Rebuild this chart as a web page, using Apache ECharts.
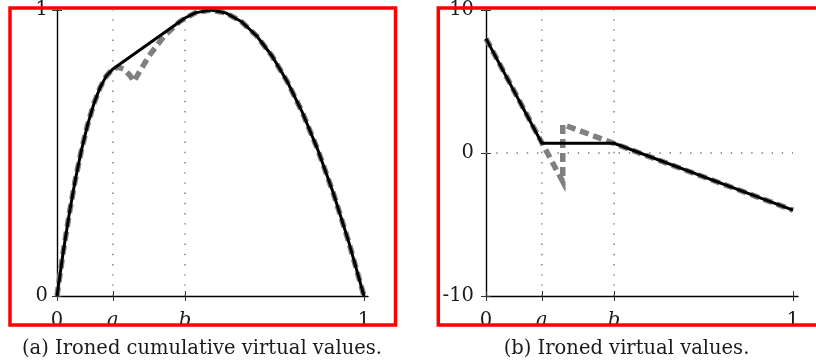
<!DOCTYPE html>
<html>
<head>
<meta charset="utf-8">
<script src="https://cdn.jsdelivr.net/npm/echarts@6/dist/echarts.min.js"></script>
<style>
  html, body { margin: 0; padding: 0; background: #ffffff; }
  #chart { width: 816px; height: 363px; }
</style>
</head>
<body>
<div id="chart"></div>
<script>
// ---------- data ----------
// shared x ticks (quantile axis)
const xTickValues = [0, 0.182, 0.417, 1];
const xTickLabels = ['0', 'a', 'b', '1'];

// panel (a): cumulative virtual values
const cumYTickValues = [0, 1];
const cumYTickLabels = ['0', '1'];
const cumOrigQ = [0, 0.02, 0.04, 0.06, 0.08, 0.10, 0.12, 0.14, 0.16, 0.18, 0.20, 0.22, 0.24, 0.25,
                  0.30, 0.35, 0.40, 0.45, 0.50, 0.55, 0.60, 0.65, 0.70, 0.75, 0.80, 0.85, 0.90, 0.95, 1.00];
const cumOrigR = [0, 0.152, 0.288, 0.408, 0.512, 0.600, 0.672, 0.728, 0.768, 0.792, 0.800, 0.792, 0.768, 0.750,
                  0.840, 0.910, 0.960, 0.990, 1.000, 0.990, 0.960, 0.910, 0.840, 0.750, 0.640, 0.510, 0.360, 0.190, 0];
const cumIronQ = [0, 0.02, 0.04, 0.06, 0.08, 0.10, 0.12, 0.14, 0.16, 0.18, 0.182, 0.417,
                  0.45, 0.50, 0.55, 0.60, 0.65, 0.70, 0.75, 0.80, 0.85, 0.90, 0.95, 1.00];
const cumIronR = [0, 0.152, 0.288, 0.408, 0.512, 0.600, 0.672, 0.728, 0.768, 0.792, 0.793, 0.972,
                  0.990, 1.000, 0.990, 0.960, 0.910, 0.840, 0.750, 0.640, 0.510, 0.360, 0.190, 0];

// panel (b): virtual values
const virtYTickValues = [-10, 0, 10];
const virtYTickLabels = ['-10', '0', '10'];
const virtOrigQ = [0, 0.25, 0.25, 1];
const virtOrigV = [8, -2, 2, -4];
const virtIronQ = [0, 0.182, 0.417, 1];
const virtIronV = [8, 0.68, 0.68, -4];

const captionA = '(a) Ironed cumulative virtual values.';
const captionB = '(b) Ironed virtual values.';

// ---------- styling ----------
const FONT = 'DejaVu Serif';
const FS = 19.5;
const TXT = '#1a1a1a';

function zip(xs, ys) { return xs.map((x, i) => [x, ys[i]]); }
function labelFmt(values, labels) {
  return function (v) {
    let i = values.findIndex(t => Math.abs(t - v) < 1e-6);
    if (i < 0) return '';
    const s = labels[i];
    return /^[a-z]$/.test(s) ? '{it|' + s + '}' : s;
  };
}
const rich = { it: { fontFamily: FONT, fontSize: FS, fontStyle: 'italic', color: TXT } };

function xAxes(grid, max) {
  return [
    {
      gridIndex: grid, type: 'value', min: 0, max: max, position: 'bottom',
      axisLine: { show: true, onZero: false, lineStyle: { color: '#000', width: 1.4 } },
      axisTick: { show: true, inside: false, length: 5, customValues: xTickValues, lineStyle: { color: '#333', width: 1 } },
      axisLabel: { show: true, customValues: xTickValues, formatter: labelFmt(xTickValues, xTickLabels),
                   margin: 15, fontFamily: FONT, fontSize: FS, color: TXT, rich: rich },
      splitLine: { show: false }
    },
    {
      gridIndex: grid, type: 'value', min: 0, max: max, position: 'bottom',
      axisLine: { show: false, onZero: false },
      axisTick: { show: true, inside: true, length: 5, customValues: xTickValues, lineStyle: { color: '#333', width: 1 } },
      axisLabel: { show: false },
      splitLine: { show: false }
    }
  ];
}
function yAxes(grid, min, max, vals, labs, margin) {
  return [
    {
      gridIndex: grid, type: 'value', min: min, max: max, position: 'left',
      axisLine: { show: true, onZero: false, lineStyle: { color: '#000', width: 1.4 } },
      axisTick: { show: true, inside: false, length: 5, customValues: vals, lineStyle: { color: '#333', width: 1 } },
      axisLabel: { show: true, customValues: vals, formatter: labelFmt(vals, labs),
                   margin: margin, fontFamily: FONT, fontSize: FS, color: TXT },
      splitLine: { show: false }
    },
    {
      gridIndex: grid, type: 'value', min: min, max: max, position: 'left',
      axisLine: { show: false, onZero: false },
      axisTick: { show: true, inside: true, length: 5, customValues: vals, lineStyle: { color: '#333', width: 1 } },
      axisLabel: { show: false },
      splitLine: { show: false }
    }
  ];
}

function guide(xi, yi, pts) {
  return {
    type: 'line', xAxisIndex: xi, yAxisIndex: yi, data: pts, showSymbol: false, silent: true,
    clip: false, z: 1,
    lineStyle: { color: '#777', width: 1.4, type: [1.4, 8.8], cap: 'butt' }
  };
}
function dashed(xi, yi, pts) {
  return {
    type: 'line', xAxisIndex: xi, yAxisIndex: yi, data: pts, showSymbol: false, silent: true,
    clip: false, z: 2,
    lineStyle: { color: '#808080', width: 5.5, type: [9, 5], cap: 'butt', join: 'miter' }
  };
}
function solid(xi, yi, pts) {
  return {
    type: 'line', xAxisIndex: xi, yAxisIndex: yi, data: pts, showSymbol: false, silent: true,
    clip: false, z: 3,
    lineStyle: { color: '#000', width: 3, join: 'round' }
  };
}

const a = xTickValues[1], b = xTickValues[2];

const option = {
  animation: false,
  backgroundColor: '#ffffff',
  grid: [
    { left: 57, top: 8, width: 311, height: 288 },
    { left: 486, top: 8, width: 312, height: 288 }
  ],
  xAxis: [].concat(xAxes(0, 311 / 307), xAxes(1, 312 / 307)),
  yAxis: [].concat(
    yAxes(0, 0, 1, cumYTickValues, cumYTickLabels, 9),
    yAxes(1, -10, 10, virtYTickValues, virtYTickLabels, 12)
  ),
  series: [
    guide(0, 0, [[a, 0], [a, 1]]),
    guide(0, 0, [[b, 0], [b, 1]]),
    guide(2, 2, [[a, -10], [a, 10]]),
    guide(2, 2, [[b, -10], [b, 10]]),
    guide(2, 2, [[0, 0], [1, 0]]),
    dashed(0, 0, zip(cumOrigQ, cumOrigR)),
    solid(0, 0, zip(cumIronQ, cumIronR)),
    dashed(2, 2, zip(virtOrigQ, virtOrigV)),
    solid(2, 2, zip(virtIronQ, virtIronV))
  ],
  graphic: [
    { type: 'rect', z: 100, silent: true, shape: { x: 10, y: 8, width: 385.5, height: 317 },
      style: { fill: 'none', stroke: '#ff0000', lineWidth: 3.5 } },
    { type: 'rect', z: 100, silent: true, shape: { x: 438.3, y: 8, width: 382, height: 317 },
      style: { fill: 'none', stroke: '#ff0000', lineWidth: 3.5 } },
    { type: 'text', z: 100, silent: true, x: 202, y: 349,
      style: { text: captionA, fontFamily: FONT, fontSize: FS, fill: TXT, align: 'center', verticalAlign: 'middle' } },
    { type: 'text', z: 100, silent: true, x: 626.5, y: 349,
      style: { text: captionB, fontFamily: FONT, fontSize: FS, fill: TXT, align: 'center', verticalAlign: 'middle' } }
  ]
};

const chart = echarts.init(document.getElementById('chart'), null, { renderer: 'canvas' });
chart.setOption(option);
</script>
</body>
</html>
